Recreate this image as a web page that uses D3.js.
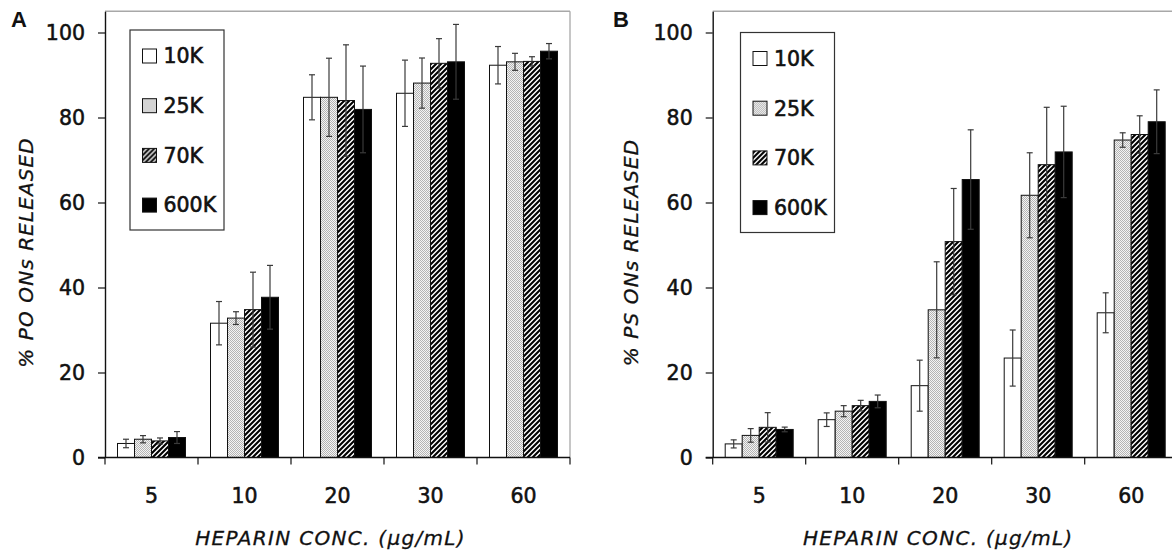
<!DOCTYPE html>
<html>
<head>
<meta charset="utf-8">
<script src="https://cdn.jsdelivr.net/npm/d3@7"></script>
<style>
  html, body { margin: 0; padding: 0; background: #fff; }
  svg { display: block; }
  text { fill: #111; }
</style>
</head>
<body>
<svg id="chart" width="1172" height="553"></svg>
<script>
// Heparin concentrations (µg/mL) and heparin molecular weights
const categories = ["5", "10", "20", "30", "60"];
const seriesNames = ["10K", "25K", "70K", "600K"];
const yTicks = [0, 20, 40, 60, 80, 100];

// Panel A: % PO ONs released (mean, SD)
const po10K = [3.3, 31.6, 84.75, 85.7, 92.3];
const po25K = [4.3, 32.8, 84.75, 88.1, 93.1];
const po70K = [3.9, 34.8, 84.0, 92.75, 93.2];
const po600K = [4.7, 37.7, 81.9, 93.1, 95.6];
const poErr10K = [1.0, 5.1, 5.3, 7.8, 4.4];
const poErr25K = [0.85, 1.5, 9.2, 5.9, 2.0];
const poErr70K = [0.7, 8.8, 13.1, 5.8, 1.1];
const poErr600K = [1.4, 7.5, 10.2, 8.8, 1.8];

// Panel B: % PS ONs released (mean, SD)
const ps10K = [3.2, 8.9, 16.9, 23.4, 34.05];
const ps25K = [5.2, 10.9, 34.75, 61.7, 74.7];
const ps70K = [7.1, 12.2, 50.8, 68.9, 76.0];
const ps600K = [6.6, 13.2, 65.4, 71.9, 79.0];
const psErr10K = [0.95, 1.6, 6.0, 6.6, 4.7];
const psErr25K = [1.6, 1.3, 11.3, 10.0, 1.7];
const psErr70K = [3.45, 1.25, 12.5, 13.5, 4.4];
const psErr600K = [0.55, 1.5, 11.7, 10.75, 7.5];

const svg = d3.select("#chart");
const FONT = "'DejaVu Sans', Verdana, sans-serif";

// Fill patterns: white, stipple, diagonal hatch, solid black
const defs = svg.append("defs");
const dots = defs.append("pattern").attr("id", "stipple")
  .attr("patternUnits", "userSpaceOnUse").attr("width", 2).attr("height", 2);
dots.append("rect").attr("width", 2).attr("height", 2).attr("fill", "#f4f4f4");
dots.append("rect").attr("x", 0).attr("y", 0).attr("width", 1).attr("height", 1).attr("fill", "#b4b4b4");
dots.append("rect").attr("x", 1).attr("y", 1).attr("width", 1).attr("height", 1).attr("fill", "#b4b4b4");

const hatch = defs.append("pattern").attr("id", "hatch")
  .attr("patternUnits", "userSpaceOnUse").attr("width", 5).attr("height", 5);
hatch.append("rect").attr("width", 5).attr("height", 5).attr("fill", "#fff");
hatch.append("path").attr("d", "M-1,1 l2,-2 M0,5 l5,-5 M4,6 l2,-2")
  .attr("stroke", "#000").attr("stroke-width", 2.1);

const fills = d3.scaleOrdinal()
  .domain(seriesNames)
  .range(["#fff", "url(#stipple)", "url(#hatch)", "#000"]);

const panels = [
  {
    letter: "A", letterX: 11, left: 105, width: 465, drawRight: true,
    yTitle: "% PO ONs RELEASED", yTitleX: 33,
    legendX: 130, legendY: 30,
    means: [po10K, po25K, po70K, po600K],
    errs: [poErr10K, poErr25K, poErr70K, poErr600K]
  },
  {
    letter: "B", letterX: 613, left: 712.7, width: 465, drawRight: false,
    yTitle: "% PS ONs RELEASED", yTitleX: 638,
    legendX: 740.5, legendY: 32.5,
    means: [ps10K, ps25K, ps70K, ps600K],
    errs: [psErr10K, psErr25K, psErr70K, psErr600K]
  }
];

panels.forEach(p => {
  const g = svg.append("g");
  const right = p.left + p.width;

  const x0 = d3.scaleBand().domain(categories).range([p.left, right]);
  const x1 = d3.scaleBand().domain(seriesNames).range([12.5, 80.5]);
  const y = d3.scaleLinear().domain([0, 105]).range([457.5, 11.25]);

  // Plot frame (top and right edges in light grey)
  g.append("line")
    .attr("x1", p.left).attr("x2", right)
    .attr("y1", y(105)).attr("y2", y(105))
    .attr("stroke", "#a8a8a8").attr("stroke-width", 1.3);
  if (p.drawRight) {
    g.append("line")
      .attr("x1", right).attr("x2", right)
      .attr("y1", y(105)).attr("y2", y(0))
      .attr("stroke", "#a8a8a8").attr("stroke-width", 1.3);
  }

  // Bars
  const rows = [];
  seriesNames.forEach((s, si) => {
    categories.forEach((c, ci) => {
      rows.push({ s, c, v: p.means[si][ci], e: p.errs[si][ci] });
    });
  });

  g.selectAll("rect.bar").data(rows).join("rect")
    .attr("class", "bar")
    .attr("x", d => x0(d.c) + x1(d.s))
    .attr("y", d => y(d.v))
    .attr("width", x1.bandwidth())
    .attr("height", d => y(0) - y(d.v))
    .attr("fill", d => fills(d.s))
    .attr("stroke", "#111")
    .attr("stroke-width", 1);

  // Error bars
  const eb = g.selectAll("g.err").data(rows).join("g").attr("class", "err")
    .attr("stroke", "#3a3a3a").attr("stroke-width", 1.2);
  const cx = d => x0(d.c) + x1(d.s) + x1.bandwidth() / 2;
  eb.append("line")
    .attr("x1", cx).attr("x2", cx)
    .attr("y1", d => y(d.v - d.e)).attr("y2", d => y(d.v + d.e));
  eb.append("line")
    .attr("x1", d => cx(d) - 3).attr("x2", d => cx(d) + 3)
    .attr("y1", d => y(d.v + d.e)).attr("y2", d => y(d.v + d.e));
  eb.append("line")
    .attr("x1", d => cx(d) - 3).attr("x2", d => cx(d) + 3)
    .attr("y1", d => y(d.v - d.e)).attr("y2", d => y(d.v - d.e));

  // Y axis
  const yAxis = g.append("g")
    .attr("transform", `translate(${p.left},0)`)
    .call(d3.axisLeft(y).tickValues(yTicks).tickSize(7).tickSizeOuter(0).tickPadding(13));
  yAxis.select(".domain").attr("stroke", "#111").attr("stroke-width", 1.4);
  yAxis.selectAll(".tick line").attr("stroke", "#111").attr("stroke-width", 1.2);
  yAxis.selectAll(".tick text")
    .attr("font-family", FONT).attr("font-size", 20.5)
    .attr("fill", "#111").attr("stroke", "#111").attr("stroke-width", 0.55);

  // X axis: baseline with ticks at category boundaries, labels centred in each band
  const xAxis = g.append("g")
    .attr("transform", `translate(0,${y(0)})`)
    .call(d3.axisBottom(x0).tickSize(0).tickSizeOuter(0).tickPadding(31));
  xAxis.select(".domain").remove();
  xAxis.selectAll(".tick text")
    .attr("font-family", FONT).attr("font-size", 20.5)
    .attr("fill", "#111").attr("stroke", "#111").attr("stroke-width", 0.55);

  g.append("line")
    .attr("x1", p.left - 7).attr("x2", right)
    .attr("y1", y(0)).attr("y2", y(0))
    .attr("stroke", "#111").attr("stroke-width", 1.4);
  const bounds = categories.map(c => x0(c)).concat([right]);
  g.selectAll("line.xb").data(bounds).join("line")
    .attr("class", "xb")
    .attr("x1", d => d).attr("x2", d => d)
    .attr("y1", y(0)).attr("y2", y(0) + 7)
    .attr("stroke", "#111").attr("stroke-width", 1.2);

  // Axis titles
  g.append("text")
    .attr("x", (p.left + right) / 2 - 7)
    .attr("y", 545)
    .attr("text-anchor", "middle")
    .attr("font-family", FONT).attr("font-size", 20)
    .attr("font-style", "italic").attr("letter-spacing", 1.3)
    .attr("stroke", "#111").attr("stroke-width", 0.3)
    .text("HEPARIN CONC. (\u03BCg/mL)");

  g.append("text")
    .attr("transform", `translate(${p.yTitleX},252.5) rotate(-90)`)
    .attr("text-anchor", "middle")
    .attr("font-family", FONT).attr("font-size", 20)
    .attr("font-style", "italic").attr("letter-spacing", 1.1)
    .attr("stroke", "#111").attr("stroke-width", 0.3)
    .text(p.yTitle);

  // Panel letter
  g.append("text")
    .attr("x", p.letterX).attr("y", 27)
    .attr("font-family", "'Liberation Sans', Arial, sans-serif")
    .attr("font-weight", "bold").attr("font-size", 22)
    .text(p.letter);

  // Legend
  const lg = g.append("g").attr("transform", `translate(${p.legendX},${p.legendY})`);
  lg.append("rect")
    .attr("width", 94).attr("height", 200)
    .attr("fill", "#fff").attr("stroke", "#333").attr("stroke-width", 1.2);
  const item = lg.selectAll("g.item").data(seriesNames).join("g")
    .attr("class", "item")
    .attr("transform", (d, i) => `translate(12.5,${26 + i * 49.7})`);
  item.append("rect")
    .attr("x", 0).attr("y", -7).attr("width", 14).attr("height", 14)
    .attr("fill", d => fills(d)).attr("stroke", "#111").attr("stroke-width", 1);
  item.append("text")
    .attr("x", 21).attr("y", 7.3)
    .attr("font-family", FONT).attr("font-size", 20.5)
    .attr("fill", "#111").attr("stroke", "#111").attr("stroke-width", 0.6)
    .text(d => d);
});
</script>
</body>
</html>
